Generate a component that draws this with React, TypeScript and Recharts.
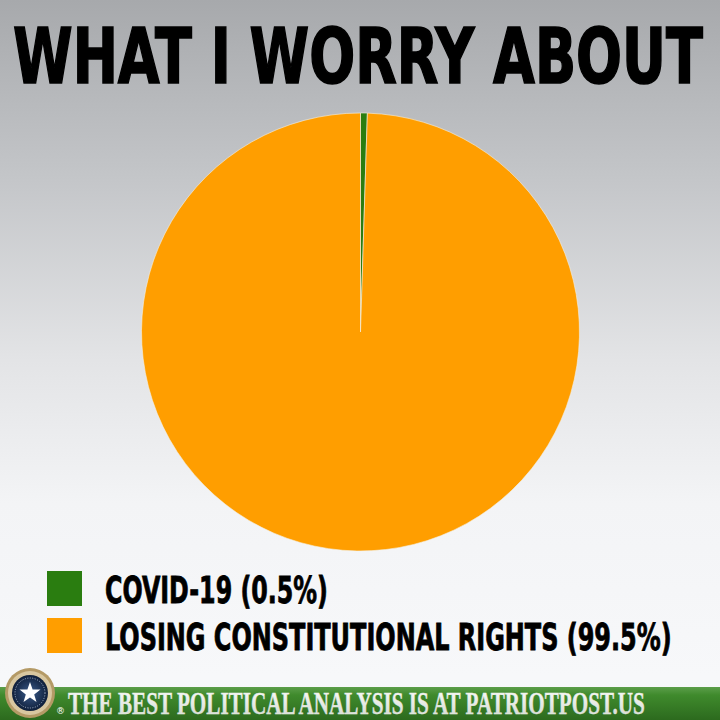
import { useLayoutEffect, useRef, useState } from "react";
import { Pie, PieChart, Cell, Legend } from "recharts";

const categories = ["COVID-19", "LOSING CONSTITUTIONAL RIGHTS"];
const shares = [0.5, 99.5];
const colors = ["#2a7d10", "#ff9e00"];

const data = categories.map((name, i) => ({ name, value: shares[i] }));

const W = 720;
const H = 720;
const SANS = "'DejaVu Sans Condensed', 'Liberation Sans Narrow', sans-serif";

// text squeezed horizontally to a given width (the reference uses a heavy condensed face)
function FitText({ x, y, width, sy = 1, children, ...rest }: any) {
  const ref = useRef<SVGTextElement>(null);
  const [sx, setSx] = useState(1);
  useLayoutEffect(() => {
    const el = ref.current;
    if (!el) return;
    const w = el.getComputedTextLength();
    if (w > 0) setSx(width / w);
  }, [width, children]);
  return (
    <text
      ref={ref}
      x={0}
      y={0}
      transform={`translate(${x} ${y}) scale(${sx} ${sy})`}
      {...rest}
    >
      {children}
    </text>
  );
}

function LegendBox() {
  return (
    <svg width={660} height={110} style={{ display: "block" }}>
      {data.map((d, i) => (
        <g key={d.name}>
          <rect x={0} y={12 + i * 47} width={35} height={35} fill={colors[i]} />
          <FitText
            x={58}
            y={12 + i * 47 + 32}
            width={i === 0 ? 223 : 567}
            fontFamily={SANS}
            fontWeight="bold"
            fontSize={37}
            fill="#000"
            stroke="#000"
            strokeWidth={0.8}
          >
            {`${d.name} (${d.value}%)`}
          </FitText>
        </g>
      ))}
    </svg>
  );
}

export default function App() {
  return (
    <div
      style={{
        position: "absolute",
        left: 0,
        top: 0,
        width: W,
        height: H,
        overflow: "hidden",
        background:
          "linear-gradient(to bottom, #a7a9ac 0%, #c4c6c9 25%, #e3e4e6 50%, #f3f4f6 70%, #f8f9fb 100%)",
      }}
    >
      <svg width={W} height={H} style={{ position: "absolute", left: 0, top: 0 }}>
        <defs>
          <linearGradient id="banner" x1="0" y1="0" x2="0" y2="1">
            <stop offset="0%" stopColor="#5c9e4a" />
            <stop offset="25%" stopColor="#3f8a2c" />
            <stop offset="100%" stopColor="#2c6a1e" />
          </linearGradient>
          <linearGradient id="bannerText" x1="0" y1="0" x2="0" y2="1">
            <stop offset="0%" stopColor="#ffffff" />
            <stop offset="100%" stopColor="#cfd6cc" />
          </linearGradient>
          <radialGradient id="seal" cx="0.5" cy="0.5" r="0.5">
            <stop offset="0%" stopColor="#3a5a8a" />
            <stop offset="100%" stopColor="#0f1f3a" />
          </radialGradient>
        </defs>
        <FitText
          x={13}
          y={83}
          width={690}
          fontFamily={SANS}
          fontWeight="bold"
          fontSize={77}
          fill="#000"
          stroke="#000"
          strokeWidth={1.6}
        >
          WHAT I WORRY ABOUT
        </FitText>
        <rect x={0} y={687} width={W} height={33} fill="url(#banner)" />
        <FitText
          x={68}
          y={714}
          width={577}
          sy={1.3}
          fontFamily="'Liberation Serif', 'DejaVu Serif', serif"
          fontWeight="bold"
          fontSize={24}
          fill="url(#bannerText)"
          stroke="#e8ece4"
          strokeWidth={0.3}
        >
          THE BEST POLITICAL ANALYSIS IS AT PATRIOTPOST.US
        </FitText>
        <text x={56} y={714} fontSize={9} fill="#ffffff" fontFamily="'DejaVu Sans', sans-serif">
          ®
        </text>
        <circle cx={30} cy={693} r={25} fill="#b49a66" />
        <circle cx={30} cy={693} r={22} fill="#d8c7a0" />
        <circle cx={30} cy={693} r={18} fill="url(#seal)" />
        <circle cx={30} cy={693} r={15} fill="none" stroke="#c9d4e6" strokeWidth={0.8} strokeDasharray="1 1.5" />
        <polygon
          points="30,682 32.6,689.4 40.5,689.6 34.2,694.4 36.5,702 30,697.5 23.5,702 25.8,694.4 19.5,689.6 27.4,689.4"
          fill="#ffffff"
        />
      </svg>
      <div style={{ position: "absolute", left: 0, top: 0 }}>
        <PieChart width={W} height={H} margin={{ top: 0, right: 0, bottom: 0, left: 0 }}>
          <Pie
            data={data}
            dataKey="value"
            nameKey="name"
            cx={360.5}
            cy={332}
            outerRadius={219}
            startAngle={90}
            endAngle={-270}
            stroke="#f4f1e8"
            strokeWidth={0.6}
            isAnimationActive={false}
          >
            {data.map((d, i) => (
              <Cell key={d.name} fill={colors[i]} />
            ))}
          </Pie>
          <Legend
            content={() => <LegendBox />}
            wrapperStyle={{ position: "absolute", left: 47, top: 559, width: 660 }}
          />
        </PieChart>
      </div>
    </div>
  );
}
